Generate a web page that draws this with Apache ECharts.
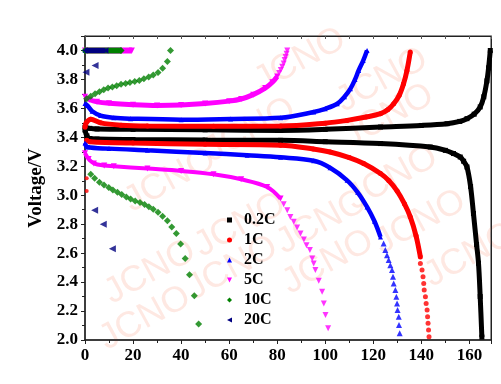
<!DOCTYPE html>
<html><head><meta charset="utf-8">
<script src="https://cdn.jsdelivr.net/npm/echarts@6/dist/echarts.min.js"></script>
<style>html,body{margin:0;padding:0;background:#fff}#c{width:501px;height:384px}</style>
</head><body><div id="c"></div>
<script>
// Capacity (mAh/g) vs Voltage (V)
const xTicks = [0,20,40,60,80,100,120,140,160];
const yTicks = [2.0,2.2,2.4,2.6,2.8,3.0,3.2,3.4,3.6,3.8,4.0];
const rateNames = ['0.2C','1C','2C','5C','10C','20C'];

const c02Charge = [[0,3.47],[2,3.462],[5,3.458],[20,3.455],[50,3.452],[81.4,3.448],[100,3.455],[123,3.471],[140,3.482],[150.7,3.494],[156,3.51],[159,3.529],[162,3.56],[164.5,3.61],[166,3.68],[167.3,3.79],[168,3.88],[168.7,4.0]];
const c02Discharge = [[0,3.45],[0.8,3.41],[2,3.392],[5,3.388],[20,3.385],[50,3.381],[81.4,3.379],[100,3.37],[123,3.357],[143.7,3.333],[150,3.31],[153.4,3.288],[156.2,3.264],[157.6,3.235],[159,3.195],[160.5,3.06],[161.7,2.874],[163,2.66],[163.8,2.53],[164.5,2.3],[165.2,2.02]];

const c1Charge = [[0,3.47],[0.5,3.5],[2.4,3.525],[6.5,3.5],[15,3.484],[26,3.478],[53.5,3.476],[81.4,3.478],[100,3.498],[109.1,3.517],[117,3.54],[123,3.563],[126,3.59],[128.5,3.632],[130.8,3.69],[132.6,3.77],[134,3.86],[135.4,3.99]];
const c1Discharge = [[0.7,3.38],[2,3.37],[20,3.36],[50,3.352],[81.4,3.345],[95,3.32],[102,3.299],[110,3.26],[116,3.219],[123,3.15],[126.5,3.1],[129.9,3.03],[133,2.94],[135.4,2.85],[137.8,2.72],[139.6,2.574]];
const c1DischargeTail = [[139.6,2.529],[140.3,2.483],[140.7,2.437],[141,2.391],[141.2,2.345],[141.7,2.299],[142,2.253],[142.4,2.207],[142.6,2.161],[142.8,2.115],[143.0,2.069],[143.2,2.023]];
const c1Outliers = [[0.7,3.117],[0.7,3.03]];

const c2Charge = [[0,3.634],[1,3.62],[3,3.58],[6.5,3.55],[12,3.535],[19,3.529],[40,3.522],[60.6,3.527],[81.4,3.535],[95.2,3.575],[100,3.597],[105,3.632],[108,3.68],[110.5,3.736],[112.4,3.8],[113.9,3.862],[115.8,3.93],[117.4,4.0]];
const c2Discharge = [[0,3.36],[1,3.333],[10,3.322],[26,3.31],[50,3.292],[67.5,3.276],[81.4,3.262],[95.2,3.238],[102,3.19],[109.1,3.103],[113.5,3.02],[117.4,2.919],[120.5,2.82],[123,2.712]];
const c2DischargeTail = [[124.3,2.667],[125,2.621],[125.7,2.586],[126.4,2.552],[127.1,2.517],[127.8,2.483],[128.2,2.437],[128.5,2.391],[129.2,2.345],[129.6,2.299],[129.9,2.253],[130.1,2.207],[130.6,2.161],[130.7,2.103],[131,2.046]];
const c2CV = [[0,4.0],[3,4.0]];

const c5Charge = [[0,3.68],[2,3.66],[5,3.645],[10,3.635],[20,3.625],[30,3.62],[40,3.623],[50,3.633],[60,3.65],[65,3.665],[70,3.695],[75,3.74],[78,3.78],[80,3.82]];
const c5ChargeTail = [[80.8,3.845],[81.5,3.865],[82.1,3.888],[82.7,3.91],[83.1,3.935],[83.5,3.955],[83.9,3.978],[84.2,4.0]];
const c5Discharge = [[0,3.29],[1.5,3.25],[3.7,3.22],[8,3.205],[12,3.2],[26,3.184],[40,3.168],[53.5,3.145],[65,3.11],[75.8,3.057],[81.4,2.977]];
const c5DischargeTail = [[82.7,2.938],[84.2,2.897],[85.5,2.85],[86.9,2.816],[88.3,2.777],[89.7,2.736],[91.1,2.694],[92.2,2.655],[93.6,2.621],[94.6,2.563],[95.2,2.529],[95.9,2.483],[97.3,2.409],[98.7,2.333],[99.4,2.253],[100.1,2.172],[101.2,2.081]];
const c5CV = [[0,4.0],[19.5,4.0]];

const c10Charge = [[0.7,3.667],[2.4,3.683],[4.2,3.701],[6.0,3.715],[7.8,3.729],[9.6,3.74],[11.4,3.747],[13.2,3.757],[15.0,3.766],[16.9,3.772],[18.7,3.779],[20.7,3.786],[22.6,3.793],[24.5,3.805],[26.5,3.816],[28.4,3.83],[30.4,3.848],[32.3,3.878],[34.3,3.924],[35.6,4.0]];
const c10Discharge = [[2.4,3.145],[4.0,3.117],[6.0,3.09],[7.9,3.07],[9.9,3.053],[11.6,3.037],[13.5,3.02],[15.3,3.005],[17.2,2.988],[19.0,2.974],[20.9,2.96],[22.9,2.95],[24.8,2.936],[26.6,2.92],[28.4,2.903],[30.4,2.883],[32.3,2.855],[34.3,2.823],[36.1,2.78],[38.0,2.736],[39.8,2.664],[41.7,2.563],[43.5,2.45],[45.5,2.306],[47.3,2.11]];
const c10CV = [[0,4.0],[15,4.0]];

const c20Charge = [[0.4,3.85],[4.2,3.897]];
const c20Discharge = [[4.0,2.897],[7.6,2.8],[11.4,2.63]];
const c20CV = [[0,4.0],[8.5,4.0]];

const colors = ['#000000','#ff0000','#0000ff','#ff00ff','#008000','#000080'];
const downTri = 'path://M0,0 L10,0 L5,10 Z';
const leftTri = 'path://M10,0 L10,10 L0,5 Z';
const symbols = ['rect','circle','triangle',downTri,'diamond',leftTri];

function lineS(name, data, idx, lw, ss){
  return {name, type:'line', data, smooth:0.35, symbol:symbols[idx], symbolSize:ss, showSymbol:true,
    lineStyle:{color:colors[idx], width:lw}, itemStyle:{color:colors[idx]}, z:2+idx, silent:true, animation:false};
}
function scatS(name, data, idx, ss){
  return {name, type:'scatter', data, symbol:symbols[idx], symbolSize:ss,
    itemStyle:{color:colors[idx]}, z:3+idx, silent:true, animation:false};
}
const serif = '"Liberation Serif","Times New Roman",serif';

const series = [
  lineS('0.2C', c02Charge, 0, 5, 5), lineS('0.2C', c02Discharge, 0, 5, 5),
  lineS('1C', c1Charge, 1, 5, 5), lineS('1C', c1Discharge, 1, 5, 5), scatS('1C', c1DischargeTail, 1, 5), scatS('1C', c1Outliers, 1, 4),
  lineS('2C', c2Charge, 2, 4.5, 5), lineS('2C', c2Discharge, 2, 4.5, 5), scatS('2C', c2DischargeTail, 2, 6), lineS('2C', c2CV, 2, 5, 5),
  lineS('5C', c5CV, 3, 6, 6), lineS('5C', c5Charge, 3, 5, 6), scatS('5C', c5ChargeTail, 3, 6),
  lineS('5C', c5Discharge, 3, 4, 6), scatS('5C', c5DischargeTail, 3, 6),
  lineS('10C', c10CV, 4, 6, 7), scatS('10C', c10Charge, 4, 7), scatS('10C', c10Discharge, 4, 7),
  lineS('20C', c20CV, 5, 5, 6), scatS('20C', c20Charge, 5, 7), scatS('20C', c20Discharge, 5, 7)
];

const wm = [[145,318],[150,272],[232,268],[240,225],[322,222],[328,262],[392,178],[420,222],[382,80],[388,116],[250,130],[470,255],[170,180],[300,60]];
const graphic = wm.map(p => ({type:'text', x:p[0], y:p[1], rotation:0.5, silent:true, z:0,
  style:{text:'JCNO', font:'36px "Liberation Sans",Arial,sans-serif', fill:'rgba(248,140,110,0.2)', align:'center', verticalAlign:'middle'}}));

const chart = echarts.init(document.getElementById('c'), null, {renderer:'canvas'});
chart.setOption({
  backgroundColor:'#fff',
  animation:false,
  grid:{left:85, right:10, top:36, bottom:44, show:true, borderColor:'#222', borderWidth:1},
  legend:{orient:'vertical', left:222, top:207, itemGap:4, itemWidth:5, itemHeight:5, selectedMode:false,
    textStyle:{fontFamily:serif, fontWeight:'bold', fontSize:16, color:'#000', padding:[0,0,0,7]},
    data: rateNames.map((n,i)=>({name:n, icon:symbols[i]}))},
  xAxis:[{type:'value', min:0, max:169, interval:20, position:'bottom',
    axisLine:{show:true, onZero:false, lineStyle:{color:'#222', width:1.5}},
    axisTick:{show:true, length:4, inside:false, lineStyle:{color:'#222'}},
    minorTick:{show:true, splitNumber:2, length:3, lineStyle:{color:'#222'}},
    splitLine:{show:false},
    axisLabel:{fontFamily:serif, fontWeight:'bold', fontSize:17, color:'#000', margin:7, showMaxLabel:false,
      formatter:v=> xTicks.includes(v) ? String(v) : ''}},
   {type:'value', min:0, max:169, interval:10, position:'top',
    axisLine:{show:true, onZero:false, lineStyle:{color:'#222'}},
    axisTick:{show:true, inside:true, length:3, lineStyle:{color:'#555'}},
    axisLabel:{show:false}, splitLine:{show:false}}],
  yAxis:[{type:'value', min:2.0, max:4.1, interval:0.2, position:'left',
    name:'Voltage/V', nameLocation:'middle', nameGap:39,
    nameTextStyle:{fontFamily:serif, fontWeight:'bold', fontSize:19, color:'#000'},
    axisLine:{show:true, onZero:false, lineStyle:{color:'#222', width:1.5}},
    axisTick:{show:true, length:4, inside:false, lineStyle:{color:'#222'}},
    minorTick:{show:true, splitNumber:2, length:3, lineStyle:{color:'#222'}},
    splitLine:{show:false},
    axisLabel:{fontFamily:serif, fontWeight:'bold', fontSize:17, color:'#000', margin:7, showMaxLabel:false,
      formatter:v=> yTicks.some(t=>Math.abs(t-v)<1e-6) ? v.toFixed(1) : ''}},
   {type:'value', min:2.0, max:4.1, position:'right',
    axisLine:{show:true, onZero:false, lineStyle:{color:'#222'}},
    axisTick:{show:false}, axisLabel:{show:false}, splitLine:{show:false}}],
  graphic: graphic,
  series: series
});
</script></body></html>
